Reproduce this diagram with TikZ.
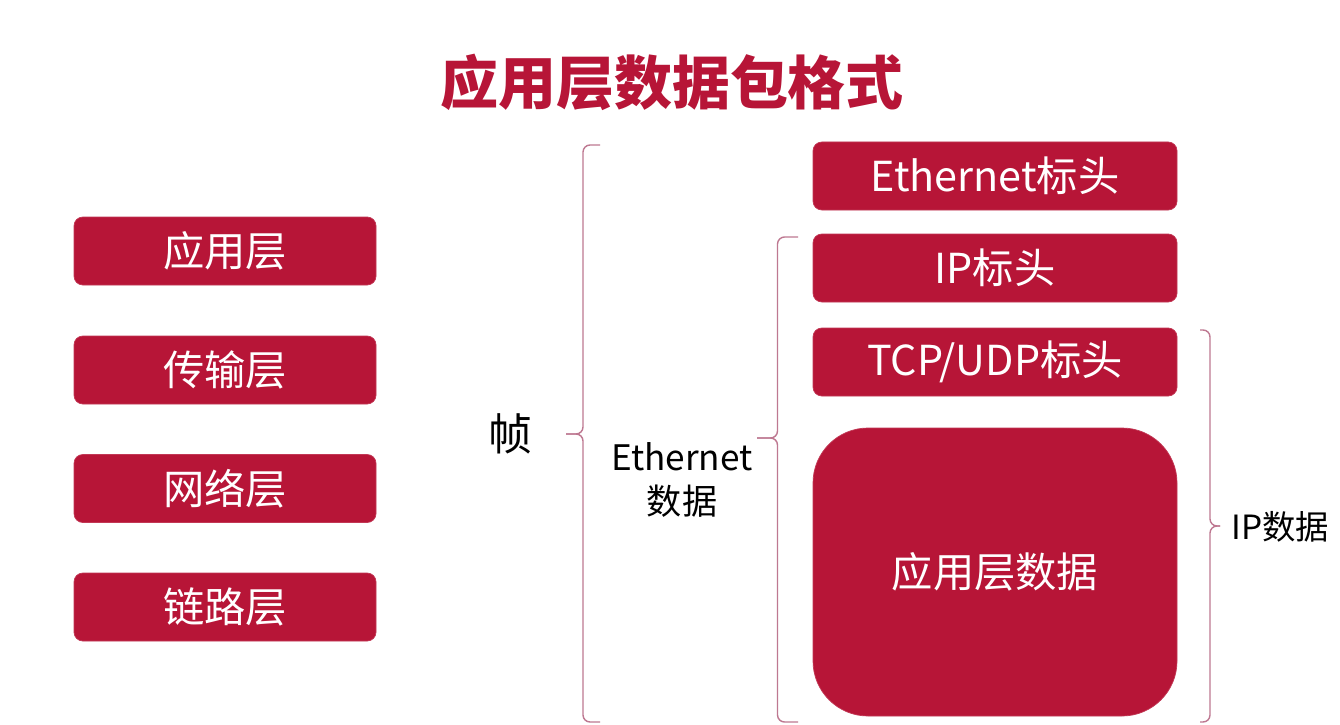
\documentclass[tikz,border=0pt]{standalone}
\usepackage{fontspec}
\setmainfont{Noto Sans CJK SC}
\definecolor{boxred}{RGB}{183,21,55}
\definecolor{bracecol}{RGB}{190,120,145}

\begin{document}
\begin{tikzpicture}[
	layer/.style={fill=boxred, draw=boxred!85!white, rounded corners=5pt, minimum width=6.04cm, minimum height=1.36cm, text=white, font=\fontsize{23.5}{28}\selectfont},
	header/.style={layer, minimum width=7.28cm},
	bracket/.style={draw=bracecol, line width=0.8pt, rounded corners=4pt},
	label/.style={font=\fontsize{20}{25}\selectfont, align=center}]
	
	\fill[white] (0,0) rectangle (26.8,14.48);
	\useasboundingbox (0,0) rectangle (26.8,14.48);
	
	\node[text=boxred, font=\fontsize{33}{40}\selectfont\bfseries] (title) at (13.44,12.84) {应用层数据包格式};
	
	% layers
	\node[layer] (app) at (4.5,9.46) {应用层};
	\node[layer] (trans) at (4.5,7.08) {传输层};
	\node[layer] (net) at (4.5,4.71) {网络层};
	\node[layer] (link) at (4.5,2.34) {链路层};
	
	% packet
	\node[header] (ethhead) at (19.9,10.96) {Ethernet标头};
	\node[header] (iphead) at (19.9,9.12) {IP标头};
	\node[header] (tcphead) at (19.9,7.24) {TCP/UDP标头};
	\node[header, minimum height=5.76cm, rounded corners=1.1cm] (appdata) at (19.9,3.04) {应用层数据};
	
	% braces
	\coordinate (frametop) at (12.0,11.58);
	\coordinate (framebot) at (12.0,0.04);
	\coordinate (frametip) at (11.32,5.8);
	\draw[bracket] (frametop) -- ++(-0.34,0) |- (frametip);
	\draw[bracket] (framebot) -- ++(-0.34,0) |- (frametip);
	\node[label, font=\fontsize{25}{30}\selectfont] (frame) at (10.2,5.8) {帧};
	
	\coordinate (ethtop) at (15.96,9.74);
	\coordinate (ethbot) at (15.96,0.04);
	\coordinate (ethtip) at (15.14,5.72);
	\draw[bracket] (ethtop) -- ++(-0.41,0) |- (ethtip);
	\draw[bracket] (ethbot) -- ++(-0.41,0) |- (ethtip);
	\node[label] (ethdata) at (13.64,4.88) {Ethernet\\数据};
	
	\coordinate (iptop) at (24.0,7.88);
	\coordinate (ipbot) at (24.0,0.04);
	\coordinate (iptip) at (24.4,3.96);
	\draw[bracket] (iptop) -- ++(0.2,0) |- (iptip);
	\draw[bracket] (ipbot) -- ++(0.2,0) |- (iptip);
	\node[label, font=\fontsize{19}{24}\selectfont, anchor=west] (ipdata) at (24.5,3.94) {IP数据};
	
\end{tikzpicture}
\end{document}
